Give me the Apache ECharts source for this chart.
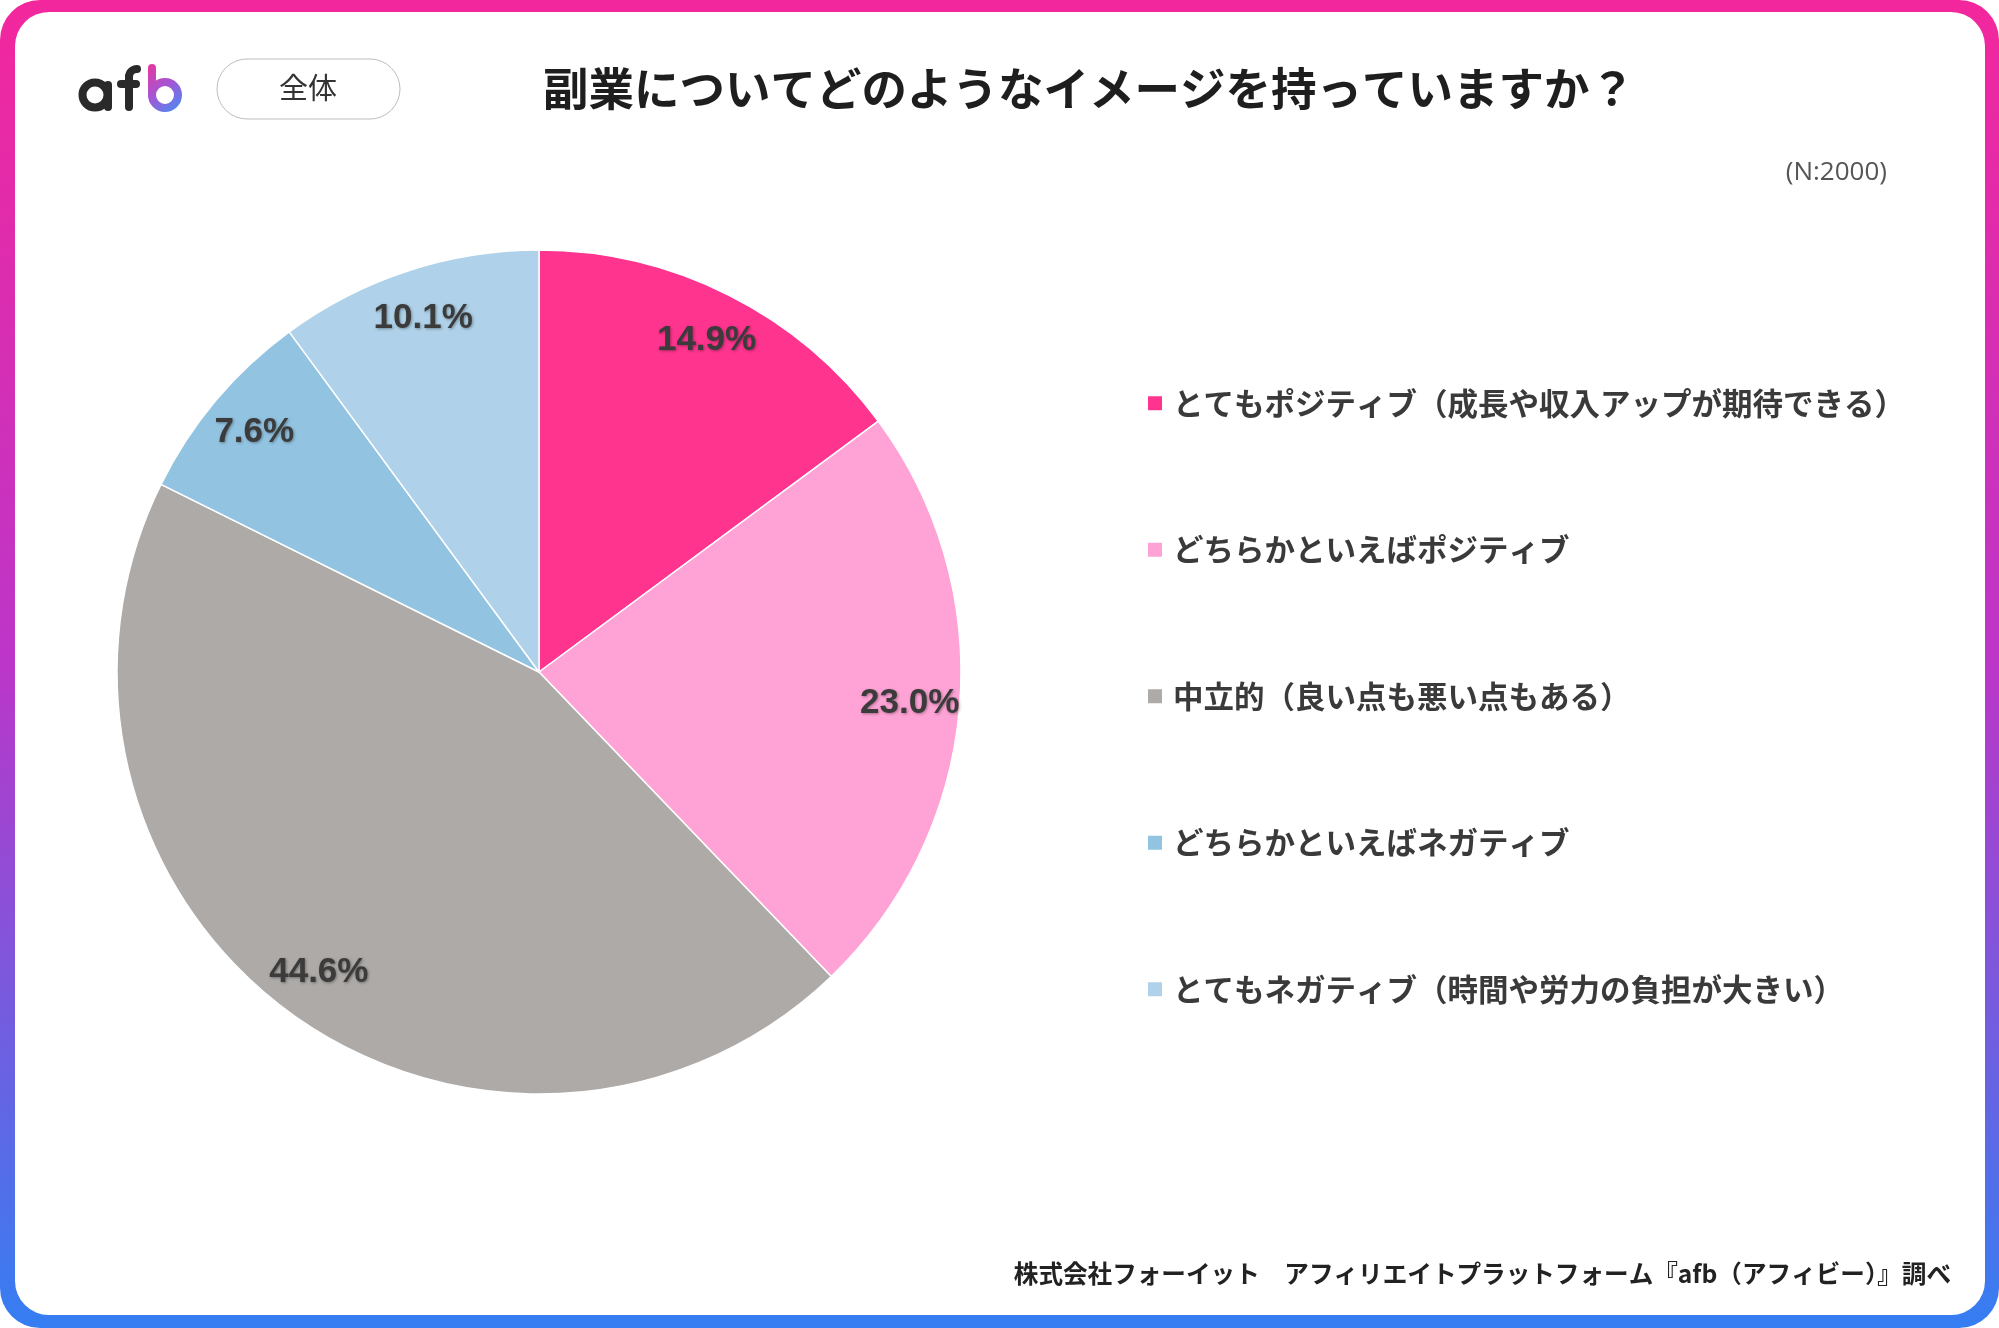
<!DOCTYPE html>
<html>
<head>
<meta charset="utf-8">
<script src="https://cdn.jsdelivr.net/npm/echarts@6/dist/echarts.min.js"></script>
<style>
  html, body { margin: 0; padding: 0; background: #fff; }
  #chart { width: 1999px; height: 1328px; }
</style>
</head>
<body>
<div id="chart"></div>
<script>
// データ
const categories = [
    'とてもポジティブ（成長や収入アップが期待できる）',
    'どちらかといえばポジティブ',
    '中立的（良い点も悪い点もある）',
    'どちらかといえばネガティブ',
    'とてもネガティブ（時間や労力の負担が大きい）'
];
const values = [14.9, 23.0, 44.6, 7.6, 10.1];
const colors = ['#ff348f', '#ffa3d6', '#adaaa7', '#92c4e2', '#afd2ea'];

const titleText = '副業についてどのようなイメージを持っていますか？';
const sampleText = '(N:2000)';
const footerText = '株式会社フォーイット　アフィリエイトプラットフォーム『afb（アフィビー）』調べ';

const chart = echarts.init(document.getElementById('chart'));

const pieData = categories.map((name, i) => ({
    name: name,
    value: values[i],
    itemStyle: { color: colors[i] }
}));

const jp = '"Noto Sans CJK JP", sans-serif';

// ロゴ用
const logoDark = '#2a2a2a';
const logoGrad = new echarts.graphic.LinearGradient(146, 64, 184, 112, [
    { offset: 0, color: '#ec359c' },
    { offset: 0.5, color: '#a257d6' },
    { offset: 1, color: '#3c93f6' }
], true);
const stroke = (color) => ({ stroke: color, fill: 'none', lineWidth: 8, lineCap: 'round' });

chart.setOption({
    animation: false,
    graphic: [
        // 枠 (グラデーション)
        {
            type: 'rect', z: -10, silent: true,
            shape: { x: 0, y: 0, width: 1999, height: 1328, r: 40 },
            style: {
                fill: new echarts.graphic.LinearGradient(0, 0, 0, 1, [
                    { offset: 0, color: '#f3279d' },
                    { offset: 0.5, color: '#bc36c9' },
                    { offset: 1, color: '#357ef2' }
                ])
            }
        },
        {
            type: 'rect', z: -9, silent: true,
            shape: { x: 15, y: 12, width: 1970, height: 1303, r: 34 },
            style: { fill: '#ffffff' }
        },
        // ロゴ afb
        { type: 'circle', z: 100, shape: { cx: 95, cy: 95, r: 12.5 }, style: stroke(logoDark) },
        { type: 'line', z: 100, shape: { x1: 108, y1: 85, x2: 108, y2: 107 }, style: stroke(logoDark) },
        { type: 'line', z: 100, shape: { x1: 129, y1: 107, x2: 129, y2: 77 }, style: stroke(logoDark) },
        { type: 'arc', z: 100, shape: { cx: 137, cy: 77, r: 8, startAngle: Math.PI, endAngle: Math.PI * 1.5, clockwise: true }, style: stroke(logoDark) },
        { type: 'line', z: 100, shape: { x1: 121, y1: 84, x2: 136, y2: 84 }, style: stroke(logoDark) },
        { type: 'line', z: 100, shape: { x1: 152, y1: 68, x2: 152, y2: 95 }, style: stroke(logoGrad) },
        { type: 'circle', z: 100, shape: { cx: 165, cy: 95, r: 13 }, style: stroke(logoGrad) },
        // 全体 ボタン
        {
            type: 'rect', z: 100,
            shape: { x: 217, y: 59, width: 183, height: 60, r: 30 },
            style: { fill: '#fff', stroke: '#bdbdbd', lineWidth: 1 }
        },
        {
            type: 'text', z: 101,
            style: { x: 308, y: 88, text: '全体', fill: '#333', font: '29px ' + jp, align: 'center', verticalAlign: 'middle' }
        },
        // タイトル
        {
            type: 'text', z: 100,
            style: { x: 1089, y: 89, text: titleText, fill: '#1e1e1e', font: 'bold 45.5px ' + jp, align: 'center', verticalAlign: 'middle' }
        },
        {
            type: 'text', z: 100,
            style: { x: 1887, y: 173, text: sampleText, fill: '#555', font: '26px "Open Sans", sans-serif', align: 'right', verticalAlign: 'middle' }
        },
        {
            type: 'text', z: 100,
            style: { x: 1951, y: 1274, text: footerText, fill: '#222', font: 'bold 24.6px ' + jp, align: 'right', verticalAlign: 'middle' }
        }
    ],
    legend: {
        orient: 'vertical',
        left: 1141,
        top: 383,
        icon: 'rect',
        itemWidth: 16,
        itemHeight: 16,
        itemGap: 116,
        selectedMode: false,
        data: categories.map((name, i) => ({ name: name, itemStyle: { color: colors[i] } })),
        textStyle: {
            fontFamily: 'Noto Sans CJK JP',
            fontSize: 30.5,
            fontWeight: 'bold',
            color: '#3a3a3a',
            lineHeight: 30,
            padding: [0, 0, 0, 5]
        }
    },
    series: [
        {
            type: 'pie',
            center: [539, 672],
            radius: [0, 422],
            startAngle: 90,
            clockwise: true,
            silent: true,
            label: { show: false },
            labelLine: { show: false },
            itemStyle: { borderColor: '#ffffff', borderWidth: 1.5 },
            data: pieData
        },
        // ラベル用の透明リング (ラベルを外側寄りに置くため)
        {
            type: 'pie',
            center: [539, 672],
            radius: [316, 422],
            startAngle: 90,
            clockwise: true,
            silent: true,
            itemStyle: { color: 'rgba(0,0,0,0)' },
            label: {
                show: true,
                position: 'inside',
                formatter: p => p.value.toFixed(1) + '%',
                fontFamily: '"Liberation Sans Narrow", "Liberation Sans", sans-serif',
                fontWeight: 'bold',
                fontSize: 35,
                color: '#3b3b3b',
                textShadowColor: 'rgba(0,0,0,0.35)',
                textShadowBlur: 3,
                textShadowOffsetX: 1,
                textShadowOffsetY: 1
            },
            labelLine: { show: false },
            data: categories.map((name, i) => ({ name: name, value: values[i] }))
        }
    ]
});
</script>
</body>
</html>
